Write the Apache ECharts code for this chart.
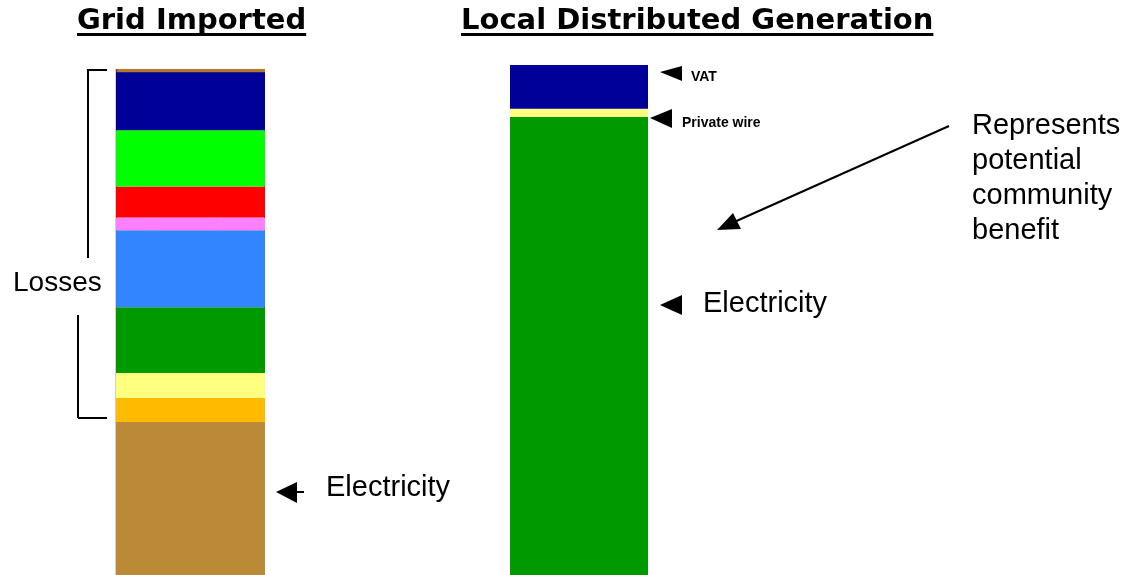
<!DOCTYPE html>
<html>
<head>
<meta charset="utf-8">
<script src="https://cdn.jsdelivr.net/npm/echarts@6/dist/echarts.min.js"></script>
<style>
  html, body {margin: 0; padding: 0; background: #fff;}
  #chart {width: 1127px; height: 575px;}
</style>
</head>
<body>
<div id="chart"></div>
<script>
// the two bars
const bars = ['Grid Imported', 'Local Distributed Generation'];

// Grid Imported stack, bottom to top (Local Distributed Generation total = 100)
const gridNames = ['Electricity', 'Loss 8', 'Loss 7', 'Loss 6', 'Loss 5', 'Loss 4', 'Loss 3', 'Loss 2', 'VAT'];
const gridValues = [30.0, 4.7, 4.9, 12.9, 15.1, 2.5, 6.1, 11.0, 11.4];

// Local Distributed Generation stack, bottom to top
const localNames = ['Electricity', 'Private wire', 'VAT'];
const localValues = [89.8, 1.6, 8.6];

const gridColors = ['#bb8a37', '#ffbb00', '#ffff80', '#009900', '#3385ff', '#ff80ff', '#ff0000', '#00ff00', '#000099'];
const localColors = ['#009900', '#ffff80', '#000099'];

const TITLE_FONT = '"DejaVu Sans", Verdana, sans-serif';
const BODY_FONT = '"Liberation Sans", Arial, sans-serif';

let chart = echarts.init(document.getElementById('chart'));

// width of a title, for its underline
let ctx = document.createElement('canvas').getContext('2d');
ctx.font = 'bold 29px ' + TITLE_FONT;
const w0 = ctx.measureText(bars[0]).width;
const w1 = ctx.measureText(bars[1]).width;

function txt(x, y, text, size, weight, font) {
  return {
    type: 'text', x: x, y: y, silent: true,
    style: {text: text, fontSize: size, fontWeight: weight, fontFamily: font, fill: '#000', align: 'left', verticalAlign: 'middle'}
  };
}

function line(x1, y1, x2, y2, w, color, opacity) {
  return {
    type: 'line', silent: true, shape: {x1: x1, y1: y1, x2: x2, y2: y2},
    style: {stroke: color || '#000', lineWidth: w, opacity: opacity == null ? 1 : opacity}
  };
}

function tri(points) {
  return {type: 'polygon', silent: true, shape: {points: points}, style: {fill: '#000'}};
}

let series = [];
gridNames.forEach((n, i) => {
  series.push({
    name: n, type: 'bar', stack: 'grid', xAxisIndex: 0, yAxisIndex: 0,
    barWidth: '100%', data: [gridValues[i]], itemStyle: {color: gridColors[i]}
  });
});
localNames.forEach((n, i) => {
  series.push({
    name: n, type: 'bar', stack: 'local', xAxisIndex: 1, yAxisIndex: 1,
    barWidth: '100%', data: [localValues[i]], itemStyle: {color: localColors[i]}
  });
});

const benefitLines = ['Represents', 'potential', 'community', 'benefit'];

let graphics = [
  // titles
  txt(77, 21, bars[0], 29, 'bold', TITLE_FONT),
  line(77, 34.5, 77 + w0, 34.5, 3),
  txt(461, 21, bars[1], 29, 'bold', TITLE_FONT),
  line(461, 34.5, 461 + w1, 34.5, 3),

  // edge of the grid imported bar
  {type: 'rect', silent: true, shape: {x: 116, y: 69, width: 149, height: 4}, style: {fill: '#b27a2c'}},
  line(116.5, 69, 116.5, 575, 1.5, '#7a2f52'),
  line(264.5, 73, 264.5, 575, 1, '#3a2a10'),

  // losses bracket
  line(87, 70, 107, 70, 2),
  line(88, 70, 88, 258, 2),
  line(78, 315, 78, 418, 2),
  line(78, 418, 107, 418, 2),
  txt(13, 283, 'Losses', 28, 'normal', BODY_FONT),

  // grid electricity
  tri([[276, 492], [297, 482], [297, 503]]),
  line(296, 492, 304, 492, 2),
  txt(326, 488, 'Electricity', 29, 'normal', BODY_FONT),

  // local labels
  tri([[660, 72], [682, 66], [682, 81]]),
  txt(691, 77, 'VAT', 14, 'bold', BODY_FONT),
  tri([[650, 118], [672, 109], [672, 128]]),
  txt(682, 123, 'Private wire', 14, 'bold', BODY_FONT),
  tri([[660, 305], [682, 295], [682, 315]]),
  txt(703, 304, 'Electricity', 29, 'normal', BODY_FONT),

  // community benefit arrow
  line(949, 126, 732, 223, 2),
  tri([[717, 230], [733, 213], [741, 229]])
];

// faint scan lines inside the grid imported bar
[146.5, 153.5, 216.5, 222.5].forEach(x => {
  graphics.push(line(x, 217, x, 307, 1, '#2a6ee0', 0.35));
  graphics.push(line(x, 422, x, 575, 1, '#d0702a', 0.45));
});

benefitLines.forEach((s, i) => {
  graphics.push(txt(972, 126 + i * 35, s, 29, 'normal', BODY_FONT));
});

let option = {
  backgroundColor: '#fff',
  animation: false,
  grid: [
    {left: 116, top: 65, width: 149, height: 510},
    {left: 510, top: 65, width: 138, height: 510}
  ],
  xAxis: [
    {type: 'category', gridIndex: 0, data: [bars[0]], show: false},
    {type: 'category', gridIndex: 1, data: [bars[1]], show: false}
  ],
  yAxis: [
    {type: 'value', gridIndex: 0, min: 0, max: 100, show: false},
    {type: 'value', gridIndex: 1, min: 0, max: 100, show: false}
  ],
  series: series,
  graphic: graphics
};

chart.setOption(option);
</script>
</body>
</html>
